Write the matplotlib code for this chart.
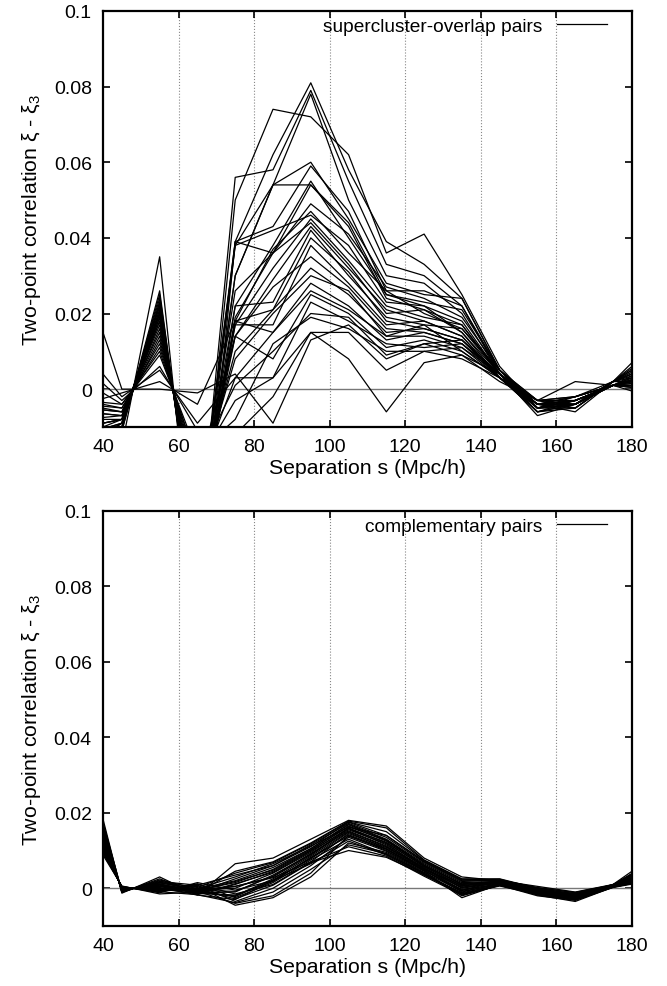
import matplotlib
matplotlib.use("Agg")
import matplotlib.pyplot as plt

plt.rcParams['font.family'] = ['Liberation Sans', 'DejaVu Sans']
plt.rcParams['mathtext.fontset'] = 'custom'
plt.rcParams['mathtext.rm'] = 'Liberation Sans'
plt.rcParams['mathtext.it'] = 'Liberation Sans:italic'

# separation grid (Mpc/h); first and last points fall outside the shown range
SEPARATION = [35, 45, 55, 65, 75, 85, 95, 105, 115, 125, 135, 145, 155, 165, 175, 185]

# supercluster-overlap pairs, one row per pair
OVERLAP_CURVES = [
    [-0.010, -0.015, 0.035, -0.060, 0.039, 0.062, 0.081, 0.058, 0.039, 0.033, 0.024, 0.005, -0.004, -0.003, 0.001, 0.004],
    [-0.030, -0.011, 0.026, -0.048, 0.050, 0.074, 0.072, 0.062, 0.036, 0.041, 0.025, 0.006, -0.005, -0.004, 0.002, 0.008],
    [-0.025, -0.011, 0.025, -0.046, 0.056, 0.058, 0.079, 0.055, 0.033, 0.030, 0.022, 0.005, -0.003, -0.002, 0.001, 0.003],
    [-0.020, -0.010, 0.024, -0.045, 0.038, 0.054, 0.078, 0.050, 0.030, 0.028, 0.020, 0.004, -0.004, -0.004, 0.002, 0.010],
    [-0.020, -0.010, 0.023, -0.043, 0.030, 0.054, 0.060, 0.045, 0.028, 0.025, 0.024, 0.005, -0.005, -0.003, 0.001, 0.002],
    [-0.018, -0.010, 0.023, -0.042, 0.039, 0.043, 0.059, 0.047, 0.026, 0.026, 0.022, 0.004, -0.006, -0.005, 0.002, 0.006],
    [-0.015, -0.009, 0.022, -0.041, 0.022, 0.038, 0.055, 0.040, 0.025, 0.022, 0.018, 0.004, -0.005, -0.003, 0.001, 0.000],
    [-0.015, -0.009, 0.022, -0.040, 0.030, 0.054, 0.054, 0.043, 0.024, 0.021, 0.017, 0.004, -0.004, -0.002, 0.001, 0.005],
    [-0.015, -0.009, 0.021, -0.039, 0.019, 0.036, 0.049, 0.041, 0.027, 0.024, 0.019, 0.005, -0.003, -0.004, 0.002, 0.007],
    [-0.012, -0.009, 0.021, -0.039, 0.018, 0.037, 0.047, 0.036, 0.026, 0.020, 0.016, 0.004, -0.005, -0.004, 0.001, 0.004],
    [-0.012, -0.008, 0.020, -0.037, 0.038, 0.042, 0.046, 0.038, 0.023, 0.022, 0.015, 0.003, -0.006, -0.003, 0.001, 0.002],
    [-0.010, -0.008, 0.020, -0.037, 0.017, 0.032, 0.045, 0.034, 0.022, 0.019, 0.017, 0.004, -0.004, -0.005, 0.002, 0.009],
    [-0.010, -0.008, 0.019, -0.036, 0.026, 0.036, 0.044, 0.033, 0.020, 0.021, 0.015, 0.004, -0.003, -0.003, 0.001, 0.003],
    [-0.010, -0.008, 0.019, -0.035, 0.014, 0.029, 0.043, 0.032, 0.021, 0.018, 0.014, 0.003, -0.004, -0.004, 0.001, 0.001],
    [-0.008, -0.008, 0.018, -0.034, 0.022, 0.023, 0.042, 0.030, 0.019, 0.017, 0.016, 0.005, -0.005, -0.002, 0.002, 0.006],
    [-0.008, -0.007, 0.018, -0.033, 0.018, 0.021, 0.040, 0.031, 0.018, 0.016, 0.013, 0.004, -0.006, -0.004, 0.002, 0.005],
    [-0.006, -0.007, 0.017, -0.032, 0.017, 0.017, 0.038, 0.028, 0.017, 0.018, 0.014, 0.003, -0.004, -0.006, 0.002, 0.008],
    [-0.006, -0.007, 0.016, -0.030, 0.014, 0.027, 0.035, 0.027, 0.016, 0.015, 0.012, 0.004, -0.005, -0.003, 0.001, -0.002],
    [-0.005, -0.006, 0.015, -0.028, 0.010, 0.021, 0.032, 0.025, 0.015, 0.016, 0.013, 0.003, -0.003, -0.005, 0.002, 0.004],
    [-0.005, -0.006, 0.014, -0.026, 0.008, 0.020, 0.030, 0.026, 0.014, 0.014, 0.011, 0.004, -0.004, -0.002, 0.001, 0.003],
    [-0.004, -0.006, 0.013, -0.024, 0.003, 0.015, 0.028, 0.022, 0.013, 0.015, 0.012, 0.003, -0.006, -0.004, 0.002, 0.002],
    [-0.004, -0.005, 0.012, -0.022, 0.014, 0.008, 0.025, 0.020, 0.011, 0.013, 0.010, 0.003, -0.005, -0.003, 0.001, 0.000],
    [-0.003, -0.005, 0.011, -0.020, -0.003, 0.003, 0.023, 0.018, 0.012, 0.011, 0.012, 0.004, -0.004, -0.004, 0.001, 0.005],
    [-0.003, -0.004, 0.010, -0.019, 0.001, 0.010, 0.020, 0.019, 0.009, 0.012, 0.009, 0.002, -0.003, -0.002, 0.001, 0.001],
    [0.002, -0.004, 0.009, -0.017, -0.008, 0.012, 0.019, 0.016, 0.010, 0.010, 0.011, 0.003, -0.004, -0.003, 0.001, 0.004],
    [0.006, -0.003, 0.006, -0.011, -0.012, -0.002, 0.015, 0.015, 0.005, 0.010, 0.008, 0.003, -0.005, -0.004, 0.002, 0.006],
    [0.010, -0.002, 0.005, -0.009, 0.003, 0.003, 0.015, 0.008, -0.006, 0.007, 0.009, 0.004, -0.007, -0.004, 0.001, 0.003],
    [0.030, 0.000, 0.000, -0.001, 0.004, -0.009, 0.013, 0.017, 0.008, 0.012, 0.013, 0.004, -0.003, 0.002, 0.001, 0.000],
    [-0.004, -0.001, 0.002, -0.004, 0.018, 0.015, 0.026, 0.021, 0.014, 0.017, 0.010, 0.003, -0.004, -0.003, 0.001, 0.006],
    [-0.012, -0.009, 0.020, -0.038, 0.039, 0.036, 0.054, 0.044, 0.025, 0.023, 0.021, 0.005, -0.005, -0.005, 0.002, 0.012],
]

# complementary pairs, one row per pair
COMPLEMENT_CURVES = [
    [0.038, -0.0013, 0.0030, -0.0018, 0.0065, 0.0080, 0.0130, 0.0180, 0.0165, 0.0080, 0.0030, 0.0020, 0.0005, -0.0010, 0.0010, 0.0080],
    [0.034, -0.0011, 0.0025, -0.0012, 0.0045, 0.0070, 0.0120, 0.0178, 0.0160, 0.0075, 0.0025, 0.0025, 0.0000, -0.0015, 0.0008, 0.0070],
    [0.032, -0.0009, 0.0020, -0.0010, 0.0025, 0.0060, 0.0110, 0.0175, 0.0140, 0.0070, 0.0020, 0.0020, -0.0003, -0.0020, 0.0010, 0.0060],
    [0.030, -0.0007, 0.0015, -0.0005, 0.0015, 0.0050, 0.0105, 0.0170, 0.0130, 0.0065, 0.0015, 0.0018, -0.0005, -0.0018, 0.0008, 0.0050],
    [0.029, -0.0006, 0.0012, -0.0015, 0.0010, 0.0045, 0.0100, 0.0165, 0.0125, 0.0060, 0.0010, 0.0015, -0.0008, -0.0020, 0.0005, 0.0045],
    [0.028, -0.0005, 0.0010, -0.0005, 0.0000, 0.0040, 0.0095, 0.0160, 0.0120, 0.0058, 0.0005, 0.0020, -0.0010, -0.0025, 0.0008, 0.0040],
    [0.027, -0.0004, 0.0008, -0.0012, -0.0010, 0.0035, 0.0090, 0.0158, 0.0115, 0.0055, 0.0000, 0.0015, -0.0012, -0.0022, 0.0006, 0.0035],
    [0.026, -0.0003, 0.0006, -0.0003, 0.0005, 0.0030, 0.0088, 0.0155, 0.0118, 0.0050, 0.0008, 0.0012, -0.0008, -0.0018, 0.0010, 0.0030],
    [0.025, -0.0002, 0.0004, -0.0010, -0.0020, 0.0025, 0.0085, 0.0150, 0.0110, 0.0052, -0.0005, 0.0018, -0.0015, -0.0028, 0.0005, 0.0028],
    [0.024, -0.0001, 0.0002, -0.0018, -0.0030, 0.0020, 0.0080, 0.0148, 0.0105, 0.0048, -0.0010, 0.0012, -0.0012, -0.0030, 0.0004, 0.0025],
    [0.023, 0.0000, 0.0000, -0.0008, -0.0040, -0.0020, 0.0040, 0.0140, 0.0100, 0.0045, -0.0025, 0.0010, -0.0018, -0.0035, 0.0003, 0.0022],
    [0.022, 0.0001, -0.0003, 0.0005, -0.0045, -0.0025, 0.0030, 0.0120, 0.0095, 0.0040, -0.0020, 0.0008, -0.0020, -0.0032, 0.0002, 0.0020],
    [0.021, 0.0002, -0.0005, 0.0008, -0.0035, 0.0000, 0.0060, 0.0135, 0.0098, 0.0042, -0.0008, 0.0010, -0.0010, -0.0025, 0.0005, 0.0030],
    [0.020, 0.0003, -0.0008, 0.0010, -0.0015, 0.0010, 0.0070, 0.0145, 0.0108, 0.0050, 0.0002, 0.0014, -0.0006, -0.0020, 0.0007, 0.0035],
    [0.019, 0.0004, -0.0010, 0.0012, -0.0025, 0.0015, 0.0075, 0.0130, 0.0090, 0.0038, -0.0012, 0.0009, -0.0014, -0.0024, 0.0004, 0.0028],
    [0.018, 0.0005, -0.0012, 0.0015, -0.0005, 0.0020, 0.0065, 0.0125, 0.0088, 0.0035, -0.0015, 0.0006, -0.0016, -0.0030, 0.0003, 0.0024],
    [0.017, 0.0006, -0.0015, -0.0010, 0.0005, 0.0028, 0.0070, 0.0110, 0.0085, 0.0032, -0.0018, 0.0008, -0.0010, -0.0022, 0.0006, 0.0032],
    [0.036, -0.0010, 0.0018, 0.0008, 0.0035, 0.0060, 0.0115, 0.0172, 0.0135, 0.0068, 0.0018, 0.0022, 0.0002, -0.0012, 0.0009, 0.0065],
    [0.031, -0.0006, 0.0014, -0.0002, 0.0020, 0.0055, 0.0105, 0.0168, 0.0128, 0.0062, 0.0012, 0.0019, -0.0004, -0.0016, 0.0008, 0.0055],
    [0.026, -0.0003, 0.0005, -0.0006, -0.0008, 0.0032, 0.0092, 0.0152, 0.0112, 0.0053, 0.0003, 0.0016, -0.0009, -0.0020, 0.0006, 0.0038],
    [0.023, 0.0001, -0.0002, -0.0014, -0.0018, 0.0018, 0.0082, 0.0138, 0.0103, 0.0046, -0.0006, 0.0013, -0.0011, -0.0026, 0.0005, 0.0032],
    [0.020, 0.0003, -0.0006, -0.0004, -0.0028, 0.0008, 0.0068, 0.0100, 0.0082, 0.0036, -0.0014, 0.0007, -0.0013, -0.0028, 0.0004, 0.0026],
    [0.033, -0.0010, 0.0022, -0.0001, 0.0030, 0.0065, 0.0112, 0.0162, 0.0140, 0.0072, 0.0022, 0.0024, -0.0002, -0.0014, 0.0007, 0.0058],
    [0.028, -0.0004, 0.0009, -0.0016, 0.0012, 0.0042, 0.0098, 0.0158, 0.0122, 0.0057, 0.0007, 0.0017, -0.0007, -0.0019, 0.0006, 0.0042],
    [0.024, 0.0000, -0.0001, -0.0009, -0.0022, 0.0022, 0.0078, 0.0142, 0.0104, 0.0047, -0.0003, 0.0011, -0.0012, -0.0027, 0.0005, 0.0030],
    [0.019, 0.0004, -0.0009, -0.0017, -0.0038, -0.0010, 0.0050, 0.0115, 0.0092, 0.0039, -0.0016, 0.0009, -0.0017, -0.0031, 0.0003, 0.0023],
    [0.035, -0.0007, 0.0016, 0.0002, 0.0040, 0.0068, 0.0118, 0.0176, 0.0150, 0.0074, 0.0024, 0.0021, 0.0001, -0.0011, 0.0009, 0.0068],
    [0.030, -0.0005, 0.0011, -0.0007, 0.0018, 0.0048, 0.0102, 0.0163, 0.0127, 0.0061, 0.0011, 0.0016, -0.0006, -0.0017, 0.0007, 0.0048],
]

X_TICKS = [40, 60, 80, 100, 120, 140, 160, 180]
Y_TICKS = [0, 0.02, 0.04, 0.06, 0.08, 0.1]
Y_TICK_LABELS = ['0', '0.02', '0.04', '0.06', '0.08', '0.1']


def draw_panel(ax, curves, label):
    for i, row in enumerate(curves):
        ax.plot(SEPARATION, row, color='black', linewidth=0.9,
                label=label if i == 0 else None, zorder=3)

    # dotted vertical grid and the zero line
    for xv in X_TICKS[1:-1]:
        ax.axvline(xv, color='#888888', linestyle=':', linewidth=0.8, zorder=1)
    ax.axhline(0, color='#777777', linewidth=1.0, zorder=2)

    ax.set_xlim(40, 180)
    ax.set_ylim(-0.01, 0.1)
    ax.set_xticks(X_TICKS)
    ax.set_yticks(Y_TICKS)
    ax.set_yticklabels(Y_TICK_LABELS)
    ax.tick_params(direction='in', length=5, width=1.2, top=True, right=True,
                   labelsize=14)
    ax.tick_params(axis='x', pad=8)
    ax.tick_params(axis='y', pad=8)
    for sp in ax.spines.values():
        sp.set_linewidth(1.6)

    ax.set_xlabel('Separation s (Mpc/h)', fontsize=15.3, labelpad=2)
    ax.set_ylabel('Two-point correlation ξ - ξ$_3$', fontsize=15.3, labelpad=8)
    ax.legend(loc='upper right', frameon=False, markerfirst=False, fontsize=13.8,
              handlelength=2.6, borderaxespad=0.0, borderpad=0.35,
              handletextpad=0.75, bbox_to_anchor=(0.965, 1.0))


fig = plt.figure(figsize=(6.67, 9.87), dpi=100)
ax_top = fig.add_axes([0.1544, 0.5664, 0.793, 0.4215])
ax_bot = fig.add_axes([0.1544, 0.0608, 0.793, 0.4205])

draw_panel(ax_top, OVERLAP_CURVES, 'supercluster-overlap pairs')
draw_panel(ax_bot, COMPLEMENT_CURVES, 'complementary pairs')

fig.savefig('out.png', dpi=100)
plt.close(fig)
